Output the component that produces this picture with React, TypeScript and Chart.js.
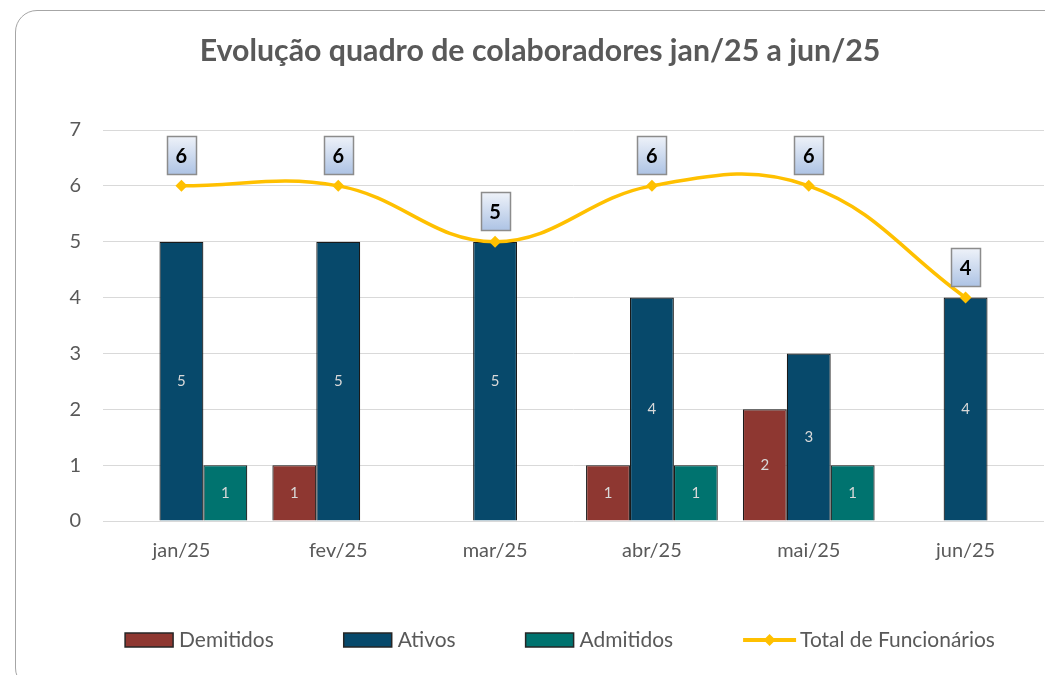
import React, { useEffect, useRef } from "react";
import { Chart, registerables } from "chart.js";
Chart.register(...registerables);

const categories = ["jan/25", "fev/25", "mar/25", "abr/25", "mai/25", "jun/25"];
const demitidos: (number | null)[] = [null, 1, null, 1, 2, null];
const ativos: (number | null)[] = [5, 5, 5, 4, 3, 4];
const admitidos: (number | null)[] = [1, null, null, 1, 1, null];
const totalFuncionarios = [6, 6, 5, 6, 6, 4];
const yMin = 0;
const yMax = 7;
const yStep = 1;
const titleText = "Evolução quadro de colaboradores jan/25 a jun/25";
const seriesLabels = ["Demitidos", "Ativos", "Admitidos", "Total de Funcionários"];

const FAMILY = "Lato, 'Open Sans', sans-serif";
const GRAY = "#595959";

function fit(text: string, target: number, weight: string) {
  const c = document.createElement("canvas").getContext("2d")!;
  c.font = `${weight} 100px ${FAMILY}`;
  return (100 * target) / c.measureText(text).width;
}

export default function App() {
  const ref = useRef<HTMLCanvasElement>(null);
  useEffect(() => {
    const titleSize = fit(titleText, 681, "bold");
    const tickSize = fit("jan/25", 58, "normal");
    const legendSize = fit("Total de Funcionários", 195, "normal");

    const overlay = {
      id: "overlay",
      afterDatasetsDraw(chart: any) {
        const ctx = chart.ctx;
        ctx.save();
        // bar value labels
        chart.data.datasets.forEach((ds: any, i: number) => {
          const meta = chart.getDatasetMeta(i);
          if (ds.type === "line") return;
          meta.data.forEach((el: any, j: number) => {
            const v = ds.data[j];
            if (v === null || v === undefined) return;
            ctx.font = `normal 15px ${FAMILY}`;
            ctx.fillStyle = "#d9d9d9";
            ctx.textAlign = "center";
            ctx.textBaseline = "middle";
            ctx.fillText(String(v), el.x, (el.y + el.base) / 2);
          });
        });
        // line value labels
        chart.data.datasets.forEach((ds: any, i: number) => {
          if (ds.type !== "line") return;
          const meta = chart.getDatasetMeta(i);
          meta.data.forEach((el: any, j: number) => {
            const w = 29, h = 38;
            const x0 = Math.round(el.x - w / 2) + 0.5;
            const y1 = Math.round(el.y - 12) + 0.5;
            const y0 = y1 - h;
            const g = ctx.createLinearGradient(0, y0, 0, y1);
            g.addColorStop(0, "#eef2f9");
            g.addColorStop(1, "#adc3e4");
            ctx.fillStyle = g;
            ctx.fillRect(x0, y0, w, h);
            ctx.strokeStyle = "#8c8c8c";
            ctx.lineWidth = 1.5;
            ctx.strokeRect(x0, y0, w, h);
            ctx.font = `bold 20px ${FAMILY}`;
            ctx.fillStyle = "#000";
            ctx.textAlign = "center";
            ctx.textBaseline = "middle";
            ctx.fillText(String(ds.data[j]), el.x, y0 + h / 2 + 1);
          });
        });
        ctx.restore();
      },
      afterDraw(chart: any) {
        const ctx = chart.ctx;
        ctx.save();
        // title
        ctx.font = `bold ${titleSize}px ${FAMILY}`;
        ctx.fillStyle = GRAY;
        ctx.textAlign = "center";
        ctx.textBaseline = "alphabetic";
        ctx.fillText(titleText, 540, 61);
        // legend
        ctx.font = `normal ${legendSize}px ${FAMILY}`;
        const items = chart.data.datasets.map((ds: any) => {
          const isLine = ds.type === "line";
          const mw = isLine ? 53 : 48;
          const gap = isLine ? 4 : 6;
          const tw = ctx.measureText(ds.label).width;
          return { ds, isLine, mw, gap, tw, total: mw + gap + tw };
        });
        const itemGap = 70;
        const totalW = items.reduce((a: number, it: any) => a + it.total, 0) + itemGap * (items.length - 1);
        let x = 560 - totalW / 2;
        const cy = 640;
        items.forEach((it: any) => {
          if (it.isLine) {
            ctx.strokeStyle = it.ds.borderColor;
            ctx.lineWidth = 4;
            ctx.beginPath();
            ctx.moveTo(x, cy);
            ctx.lineTo(x + it.mw, cy);
            ctx.stroke();
            const cx = x + it.mw / 2;
            ctx.fillStyle = it.ds.borderColor;
            ctx.beginPath();
            ctx.moveTo(cx, cy - 6);
            ctx.lineTo(cx + 6, cy);
            ctx.lineTo(cx, cy + 6);
            ctx.lineTo(cx - 6, cy);
            ctx.closePath();
            ctx.fill();
          } else {
            ctx.fillStyle = it.ds.backgroundColor;
            ctx.fillRect(x, cy - 7, it.mw, 14);
            ctx.strokeStyle = "#262626";
            ctx.lineWidth = 1.5;
            ctx.strokeRect(x, cy - 7, it.mw, 14);
          }
          ctx.fillStyle = GRAY;
          ctx.textAlign = "left";
          ctx.textBaseline = "middle";
          ctx.fillText(it.ds.label, x + it.mw + it.gap, cy);
          x += it.total + itemGap;
        });
        ctx.restore();
      },
    };

    const barCommon = {
      type: "bar" as const,
      borderColor: "#1a1a1a",
      borderWidth: 1.2,
      categoryPercentage: 0.84,
      barPercentage: 1,
      order: 1,
    };

    const chart = new Chart(ref.current!, {
      type: "bar",
      data: {
        labels: categories,
        datasets: [
          { ...barCommon, label: seriesLabels[0], data: demitidos, backgroundColor: "#8e3731" } as any,
          { ...barCommon, label: seriesLabels[1], data: ativos, backgroundColor: "#07496b" } as any,
          { ...barCommon, label: seriesLabels[2], data: admitidos, backgroundColor: "#00736f" } as any,
          {
            type: "line",
            label: seriesLabels[3],
            data: totalFuncionarios,
            borderColor: "#ffc000",
            backgroundColor: "#ffc000",
            borderWidth: 3.5,
            tension: 0.4,
            pointStyle: "rectRot",
            pointRadius: 6,
            pointBorderWidth: 0,
            order: 0,
          } as any,
        ],
      },
      options: {
        animation: false,
        responsive: false,
        maintainAspectRatio: false,
        layout: { padding: { left: 10, right: 1, top: 130, bottom: 114 } },
        plugins: {
          legend: { display: false },
          title: { display: false },
          tooltip: { enabled: false },
        },
        scales: {
          x: {
            grid: { display: false, drawTicks: false },
            border: { display: false },
            ticks: { color: GRAY, font: { family: FAMILY, size: tickSize }, padding: 18 },
            afterFit: (s: any) => { s.height = 40; },
          },
          y: {
            min: yMin,
            max: yMax,
            grid: { color: "#d9d9d9", lineWidth: 1, drawTicks: false },
            border: { display: false },
            ticks: { stepSize: yStep, color: GRAY, font: { family: FAMILY, size: tickSize }, padding: 22 },
            afterFit: (s: any) => { s.width = 93; },
          },
        },
      },
      plugins: [overlay],
    });
    return () => chart.destroy();
  }, []);

  return (
    <div style={{ position: "absolute", left: 0, top: 0, width: 1045, height: 675, overflow: "hidden", background: "#fff" }}>
      <div
        style={{
          position: "absolute",
          left: 15,
          top: 10,
          width: 1100,
          height: 680,
          border: "1.5px solid #a6a6a6",
          borderRadius: 22,
          boxSizing: "border-box",
        }}
      />
      <canvas ref={ref} width={1050} height={675} style={{ position: "absolute", left: 0, top: 0 }} />
    </div>
  );
}
